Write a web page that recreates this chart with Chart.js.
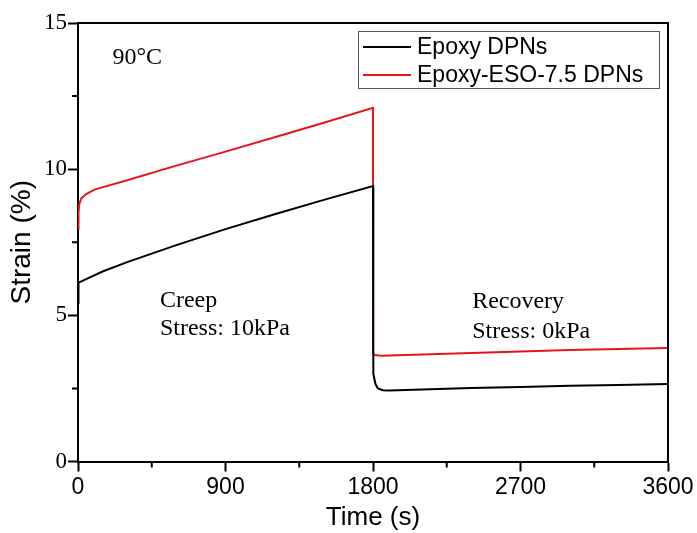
<!DOCTYPE html>
<html>
<head>
<meta charset="utf-8">
<script src="https://cdn.jsdelivr.net/npm/chart.js@4.4.0/dist/chart.umd.min.js"></script>
<style>
  html, body { margin: 0; padding: 0; background: #fff; }
  #wrap { width: 697px; height: 533px; }
</style>
</head>
<body>
<div id="wrap"><canvas id="creepChart" width="697" height="533"></canvas></div>
<script>
// Epoxy DPNs (black)
const epoxyTime   = [0, 1, 5, 20, 150, 300, 600, 900, 1200, 1500, 1800, 1800, 1801, 1805, 1815, 1830, 1860, 1900, 2100, 2400, 2700, 3000, 3300, 3600];
const epoxyStrain = [5.42, 6.0, 6.12, 6.16, 6.5, 6.82, 7.4, 7.95, 8.46, 8.95, 9.42, 3.8, 3.5, 3.0, 2.65, 2.5, 2.44, 2.43, 2.46, 2.51, 2.55, 2.59, 2.62, 2.65];

// Epoxy-ESO-7.5 DPNs (red)
const esoTime   = [0, 3, 8, 20, 50, 100, 300, 600, 900, 1200, 1500, 1800, 1800, 1810, 1850, 2100, 2400, 2700, 3000, 3300, 3600];
const esoStrain = [7.95, 8.5, 8.8, 9.0, 9.15, 9.3, 9.62, 10.12, 10.6, 11.09, 11.59, 12.1, 3.7, 3.64, 3.62, 3.66, 3.71, 3.76, 3.81, 3.85, 3.88];

const seriesLabels = ["Epoxy DPNs", "Epoxy-ESO-7.5 DPNs"];
const seriesColors = ["#000000", "#e8141b"];

const xMajorTicks = [0, 900, 1800, 2700, 3600];
const xMinorTicks = [450, 1350, 2250, 3150];
const yMajorTicks = [0, 5, 10, 15];
const yMinorTicks = [2.5, 7.5, 12.5];

// annotation texts
const notes = [
    { text: "90°C", t: 210, s: 13.8 },
    { text: "Creep", t: 500, s: 5.5 },
    { text: "Stress: 10kPa", t: 500, s: 4.55 },
    { text: "Recovery", t: 2405, s: 5.45 },
    { text: "Stress: 0kPa", t: 2405, s: 4.45 }
];

function toPoints(xs, ys) {
    return xs.map((x, i) => ({ x: x, y: ys[i] }));
}

// frame, minor ticks, legend and notes
const extrasPlugin = {
    id: "extras",
    afterDraw(chart) {
        const ctx = chart.ctx;
        const a = chart.chartArea;
        const xs = chart.scales.x;
        const ys = chart.scales.y;
        ctx.save();
        ctx.strokeStyle = "#000";
        ctx.lineWidth = 2;
        ctx.beginPath();
        ctx.moveTo(a.left, a.top);
        ctx.lineTo(a.right, a.top);
        ctx.lineTo(a.right, a.bottom);
        ctx.stroke();

        // minor ticks
        ctx.beginPath();
        xMinorTicks.forEach(v => {
            const px = xs.getPixelForValue(v);
            ctx.moveTo(px, a.bottom);
            ctx.lineTo(px, a.bottom + 6);
        });
        yMinorTicks.forEach(v => {
            const py = ys.getPixelForValue(v);
            ctx.moveTo(a.left, py);
            ctx.lineTo(a.left - 6, py);
        });
        ctx.stroke();

        // legend
        ctx.lineWidth = 1;
        ctx.strokeStyle = "#555";
        ctx.strokeRect(358.5, 31.5, 301, 57);
        ctx.font = "23px 'Liberation Sans', Arial, sans-serif";
        ctx.textBaseline = "middle";
        ctx.textAlign = "left";
        const rows = [47, 75];
        chart.data.datasets.forEach((ds, i) => {
            ctx.strokeStyle = ds.borderColor;
            ctx.lineWidth = 2;
            ctx.beginPath();
            ctx.moveTo(363, rows[i]);
            ctx.lineTo(411, rows[i]);
            ctx.stroke();
            ctx.fillStyle = "#000";
            ctx.fillText(ds.label, 417, rows[i] + 1);
        });

        // notes
        ctx.font = "24px 'Liberation Serif', 'Times New Roman', serif";
        ctx.fillStyle = "#000";
        notes.forEach(n => {
            ctx.fillText(n.text, xs.getPixelForValue(n.t), ys.getPixelForValue(n.s));
        });
        ctx.restore();
    }
};

new Chart(document.getElementById("creepChart"), {
    type: "scatter",
    data: {
        datasets: [
            {
                label: seriesLabels[0],
                data: toPoints(epoxyTime, epoxyStrain),
                borderColor: seriesColors[0],
                backgroundColor: seriesColors[0],
                showLine: true,
                pointRadius: 0,
                borderWidth: 2,
                tension: 0
            },
            {
                label: seriesLabels[1],
                data: toPoints(esoTime, esoStrain),
                borderColor: seriesColors[1],
                backgroundColor: seriesColors[1],
                showLine: true,
                pointRadius: 0,
                borderWidth: 2,
                tension: 0
            }
        ]
    },
    options: {
        responsive: false,
        animation: false,
        layout: { padding: { left: 0, right: 29, top: 23, bottom: 0 } },
        plugins: {
            legend: { display: false },
            tooltip: { enabled: false }
        },
        scales: {
            x: {
                type: "linear",
                min: 0,
                max: 3600,
                afterFit: s => { s.height = 71.5; },
                afterBuildTicks: s => { s.ticks = xMajorTicks.map(v => ({ value: v })); },
                grid: { drawOnChartArea: false, tickLength: 10, tickColor: "#000", tickWidth: 2 },
                border: { display: true, color: "#000", width: 2 },
                ticks: {
                    color: "#000",
                    padding: 2,
                    maxRotation: 0,
                    callback: v => String(v),
                    font: { family: "'Liberation Sans', Arial, sans-serif", size: 23 }
                },
                title: {
                    display: true,
                    text: "Time (s)",
                    color: "#000",
                    padding: 0,
                    font: { family: "'Liberation Sans', Arial, sans-serif", size: 26 }
                }
            },
            y: {
                type: "linear",
                min: 0,
                max: 15,
                afterFit: s => { s.width = 78; },
                afterBuildTicks: s => { s.ticks = yMajorTicks.map(v => ({ value: v })); },
                grid: { drawOnChartArea: false, tickLength: 10, tickColor: "#000", tickWidth: 2 },
                border: { display: true, color: "#000", width: 2 },
                ticks: {
                    color: "#000",
                    padding: 1,
                    callback: v => String(v),
                    font: { family: "'Liberation Serif', 'Times New Roman', serif", size: 23 }
                },
                title: {
                    display: true,
                    text: "Strain (%)",
                    color: "#000",
                    padding: { top: 5, bottom: 0 },
                    font: { family: "'Liberation Sans', Arial, sans-serif", size: 28 }
                }
            }
        }
    },
    plugins: [extrasPlugin]
});
</script>
</body>
</html>
